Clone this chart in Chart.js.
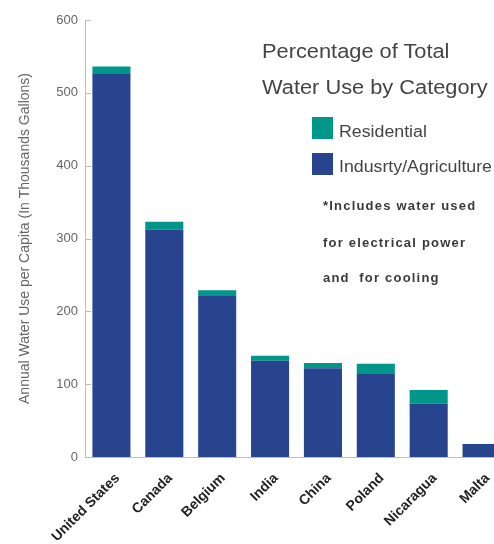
<!DOCTYPE html>
<html>
<head>
<meta charset="utf-8">
<script src="https://cdn.jsdelivr.net/npm/chart.js@4.4.1/dist/chart.umd.min.js"></script>
<style>
  html, body { margin: 0; padding: 0; background: #fff; overflow: hidden; }
  #wrap { position: relative; width: 494px; height: 544px; overflow: hidden; }
  #c { position: absolute; left: 0; top: 0; }
  .t { position: absolute; font-family: "Liberation Sans", Arial, sans-serif; color: #444; white-space: nowrap; line-height: 1; transform-origin: 0 0; }
  .title { font-size: 20px; left: 262px; transform: scaleX(1.09); }
  .key { position: absolute; left: 312px; width: 21px; height: 22px; }
  .lab { font-size: 16px; left: 339px; color: #444; transform: scaleX(1.11); }
  .note { font-size: 13px; font-weight: bold; left: 323px; color: #3a3a3a; letter-spacing: 1.2px; }
</style>
</head>
<body>
<div id="wrap">
  <canvas id="c" width="508" height="544"></canvas>
  <div class="t title" style="top:41px">Percentage of Total</div>
  <div class="t title" style="top:77px">Water Use by Category</div>
  <div id="legend"></div>
  <div class="t note" style="top:199px">*Includes water used</div>
  <div class="t note" style="top:236px">for electrical power</div>
  <div class="t note" style="top:271px">and&nbsp; for cooling</div>
</div>
<script>
// Annual water use per capita, thousands of gallons
const countries = ["United States", "Canada", "Belgium", "India", "China", "Poland", "Nicaragua", "Malta"];
const industry = [526, 312, 221, 132, 122, 114, 73, 18];
const residential = [10, 11, 8, 7, 7, 14, 19, 0];
const yTicks = [0, 100, 200, 300, 400, 500, 600];
const seriesNames = ["Residential", "Indusrty/Agriculture"];
const blue = "#29448f";
const teal = "#00968a";

// legend keys, top to bottom
const legendItems = [
  { name: seriesNames[0], color: teal, top: 117, textTop: 123.5 },
  { name: seriesNames[1], color: blue, top: 153, textTop: 158.5 }
];
const legendEl = document.getElementById("legend");
legendItems.forEach(it => {
  const box = document.createElement("div");
  box.className = "key";
  box.style.top = it.top + "px";
  box.style.background = it.color;
  legendEl.appendChild(box);
  const txt = document.createElement("div");
  txt.className = "t lab";
  txt.style.top = it.textTop + "px";
  txt.textContent = it.name;
  legendEl.appendChild(txt);
});

// short tick marks drawn inside the plot along the value axis
const innerTicks = {
  id: "innerTicks",
  afterDraw(chart) {
    const y = chart.scales.y, ctx = chart.ctx, x0 = chart.chartArea.left;
    ctx.save();
    ctx.strokeStyle = "#bdbdbd";
    ctx.lineWidth = 1;
    yTicks.forEach(v => {
      const py = Math.round(y.getPixelForValue(v)) + 0.5;
      ctx.beginPath();
      ctx.moveTo(x0, py);
      ctx.lineTo(x0 + 6, py);
      ctx.stroke();
    });
    ctx.restore();
  }
};

new Chart(document.getElementById("c"), {
  type: "bar",
  data: {
    labels: countries,
    datasets: [
      { label: seriesNames[1], data: industry, backgroundColor: blue, borderWidth: 0 },
      { label: seriesNames[0], data: residential, backgroundColor: teal, borderWidth: 0 }
    ]
  },
  plugins: [innerTicks],
  options: {
    responsive: false,
    animation: false,
    layout: { padding: { top: 20, right: 0, left: 0, bottom: 0 } },
    plugins: { legend: { display: false }, tooltip: { enabled: false } },
    datasets: { bar: { categoryPercentage: 1, barPercentage: 0.72 } },
    scales: {
      x: {
        stacked: true,
        grid: { display: false, drawTicks: false },
        border: { color: "#bdbdbd", width: 1 },
        ticks: {
          maxRotation: 45, minRotation: 45, padding: 13, labelOffset: 6,
          color: "#222",
          font: { family: "'Liberation Sans', Arial", size: 14, weight: "bold" }
        },
        afterFit(s) { s.height = 87; }
      },
      y: {
        stacked: true,
        min: 0, max: 600,
        afterBuildTicks(s) { s.ticks = yTicks.map(v => ({ value: v })); },
        grid: { display: false, drawTicks: false },
        border: { color: "#bdbdbd", width: 1 },
        ticks: {
          padding: 7, color: "#666",
          font: { family: "'Liberation Sans', Arial", size: 13 }
        },
        title: {
          display: true,
          text: "Annual Water Use per Capita (In Thousands Gallons)",
          color: "#666",
          padding: { top: 17, bottom: 6 },
          font: { family: "'Liberation Sans', Arial", size: 14 }
        },
        afterFit(s) { s.width = 85; }
      }
    }
  }
});
</script>
</body>
</html>
